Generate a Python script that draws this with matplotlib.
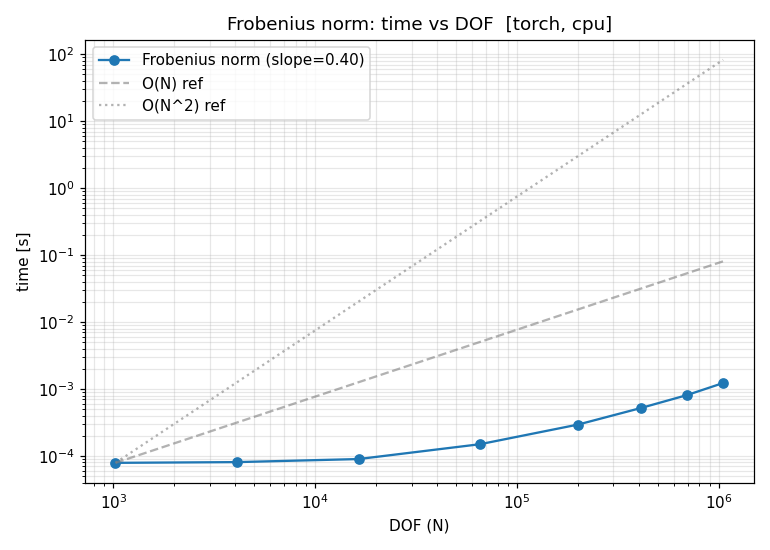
import numpy as np
import matplotlib
matplotlib.use("Agg")
import matplotlib.pyplot as plt

dof = [1024, 4096, 16384, 65536, 200704, 409600, 692224, 1048576]
times = [7.9e-5, 8.1e-5, 9.0e-5, 1.5e-4, 2.95e-4, 5.2e-4, 8.1e-4, 1.23e-3]
slope_label = "Frobenius norm (slope=0.40)"

N = np.array(dof, dtype=float)
t = np.array(times)

fig, ax = plt.subplots(figsize=(7, 5), dpi=110)

ax.loglog(N, t, "o-", color="tab:blue", label=slope_label)
ax.loglog(N, t[0] * (N / N[0]), "--", color="gray", alpha=0.6, label="O(N) ref")
ax.loglog(N, t[0] * (N / N[0]) ** 2, ":", color="gray", alpha=0.6, label="O(N^2) ref")

ax.set_xlabel("DOF (N)")
ax.set_ylabel("time [s]")
ax.set_title("Frobenius norm: time vs DOF  [torch, cpu]")
ax.grid(True, which="both", alpha=0.3)
ax.legend(loc="upper left")

fig.tight_layout()
fig.savefig("out.png")
